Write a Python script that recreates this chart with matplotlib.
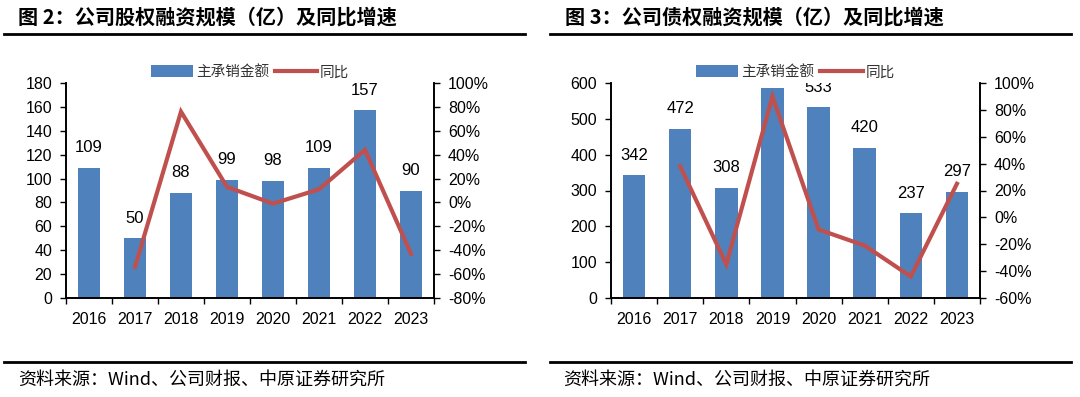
import matplotlib
matplotlib.use("Agg")
import matplotlib.pyplot as plt
from matplotlib.patches import Patch
from matplotlib.lines import Line2D
import numpy as np

plt.rcParams['font.family'] = ['Liberation Sans', 'Noto Sans CJK SC', 'DejaVu Sans']

years = ['2016', '2017', '2018', '2019', '2020', '2021', '2022', '2023']

# Chart 2: equity financing
equity_amount = [109, 50, 88, 99, 98, 109, 157, 90]
equity_yoy = [None, -54, 76, 13, -1, 11, 44, -43]   # %
equity_labels = ['109', '50', '88', '99', '98', '109', '157', '90']

# Chart 3: debt financing
debt_amount = [342, 472, 308, 587, 533, 420, 237, 297]
debt_yoy = [None, 38, -35, 90, -9, -21, -44, 25]     # %
# the 2019 label falls outside the plot area in the reference and is not shown
debt_labels = ['342', '472', '308', '', '533', '420', '237', '297']

title_left = '图 2：公司股权融资规模（亿）及同比增速'
title_right = '图 3：公司债权融资规模（亿）及同比增速'
source_text = '资料来源：Wind、公司财报、中原证券研究所'
legend_bar = '主承销金额'
legend_line = '同比'

BAR_C = '#4F81BD'
LINE_C = '#C0504D'
CJK = ['Noto Sans CJK SC', 'DejaVu Sans']
NUM = ['Liberation Sans', 'Noto Sans CJK SC']

W, H = 1080, 397
fig = plt.figure(figsize=(W / 100, H / 100), dpi=100)


def px(x0, y0, x1, y1):
    return [x0 / W, 1 - y1 / H, (x1 - x0) / W, (y1 - y0) / H]


def draw(rect, amounts, yoy, labels, ymax, ystep, rmin, rmax):
    ax = fig.add_axes(rect)
    ax2 = ax.twinx()
    x = np.arange(len(years))
    ax.bar(x, amounts, width=0.49, color=BAR_C, zorder=2)
    xs = [xi for xi, v in zip(x, yoy) if v is not None]
    vs = [v for v in yoy if v is not None]
    ax2.plot(xs, vs, color=LINE_C, lw=3, solid_joinstyle='miter', zorder=3)

    ax.set_xlim(-0.5, len(years) - 0.5)
    ax.set_ylim(0, ymax)
    ax.set_yticks(np.arange(0, ymax + 1, ystep))
    ax2.set_ylim(rmin, rmax)
    ax2.set_yticks(np.arange(rmin, rmax + 1, 20))
    ax2.set_yticklabels([f'{v}%' for v in range(rmin, rmax + 1, 20)])

    ax.set_xticks(x)
    ax.set_xticklabels(years)
    ax.set_xticks(np.arange(-0.5, len(years), 1), minor=True)
    ax.tick_params(axis='x', which='major', length=0, pad=10, labelsize=11.5)
    ax.tick_params(axis='x', which='minor', length=4, width=1, direction='out')
    ax.tick_params(axis='y', length=4, width=1, direction='out', pad=6, labelsize=11.5)
    ax2.tick_params(axis='y', length=4, width=1, direction='out', pad=6, labelsize=11.5)

    for a in (ax, ax2):
        a.spines['top'].set_visible(False)
        for s in ('left', 'right', 'bottom'):
            a.spines[s].set_linewidth(1.2)
            a.spines[s].set_color('black')
    ax.patch.set_visible(False)

    for xi, v, lab in zip(x, amounts, labels):
        if not lab:
            continue
        t = ax2.annotate(lab, xy=(xi, v), xycoords=ax.transData,
                         xytext=(0, 9), textcoords='offset points',
                         ha='center', va='bottom', fontsize=12,
                         family=NUM, zorder=5, annotation_clip=False)
        t.set_clip_on(True)
        t.set_clip_box(ax.bbox)

    handles = [Patch(facecolor=BAR_C, edgecolor='none'),
               Line2D([0], [0], color=LINE_C, lw=3)]
    leg = ax2.legend(handles, [legend_bar, legend_line], ncol=2, frameon=False,
                     loc='lower center', bbox_to_anchor=(0.5, 0.99),
                     handlelength=2.9, handleheight=0.9, handletextpad=0.2,
                     columnspacing=0.4, borderaxespad=0.0,
                     prop={'family': CJK, 'size': 10.5})
    for t in leg.get_texts():
        t.set_color('#333333')
    return ax, ax2


draw(px(66, 83, 434, 298), equity_amount, equity_yoy, equity_labels, 180, 20, -80, 100)
draw(px(611, 83, 980, 298), debt_amount, debt_yoy, debt_labels, 600, 100, -60, 100)

# titles and rules
fig.text(18 / W, 1 - 17 / H, title_left, family=CJK, fontweight='bold',
         fontsize=14.5, va='center', ha='left')
fig.text(565 / W, 1 - 17 / H, title_right, family=CJK, fontweight='bold',
         fontsize=14.5, va='center', ha='left')
for x0, x1 in ((4, 525), (550, 1071)):
    fig.add_artist(Line2D([x0 / W, x1 / W], [1 - 33.5 / H] * 2, color='black', lw=2))
    fig.add_artist(Line2D([x0 / W, x1 / W], [1 - 362 / H] * 2, color='black', lw=2))

fig.text(18 / W, 1 - 380 / H, source_text, family=CJK, fontsize=13,
         va='center', ha='left')
fig.text(563 / W, 1 - 380 / H, source_text, family=CJK, fontsize=13,
         va='center', ha='left')

fig.savefig('out.png', dpi=100)
